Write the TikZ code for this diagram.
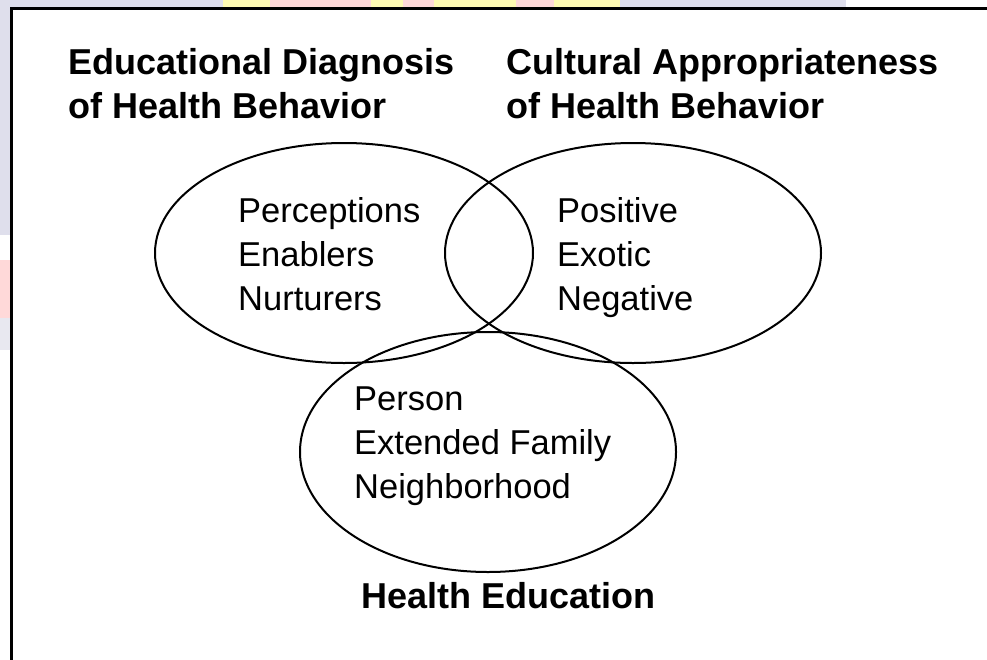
\documentclass[tikz,border=0pt]{standalone}
\usepackage{fontspec}
\setmainfont{Liberation Sans}

\tikzset{
  ring/.style={line width=2pt},
  heading/.style={font=\fontsize{36}{44}\selectfont\bfseries, align=left, anchor=base west, inner sep=0pt},
  items/.style={font=\fontsize{34.5}{44}\selectfont, align=left, anchor=base west, inner sep=0pt}
}

\begin{document}
\begin{tikzpicture}[x=1pt,y=-1pt]
\useasboundingbox (0,0) rectangle (987,659);
\clip (0,0) rectangle (987,659);

% faded backdrop showing round the frame
\fill[blue!25!gray!20] (0,0) rectangle (846,11);
\fill[yellow!30] (223,0) rectangle (620,11);
\fill[red!15] (270,0) rectangle (371,11);
\fill[red!15] (403,0) rectangle (434,11);
\fill[red!15] (516,0) rectangle (554,11);
\fill[blue!25!gray!20] (0,0) rectangle (11,235);
\fill[red!15] (0,260) rectangle (11,333);
\fill[blue!20!gray!15] (0,318) rectangle (11,350);

% frame
\draw[line width=3pt, fill=white] (11,8.5) rectangle (1010,680);

% the three sets
\draw[ring] (344,253) ellipse (189 and 110);
\draw[ring] (633,253) ellipse (188 and 110);
\draw[ring] (488,452) ellipse (188 and 120);

% headings (anchored on the last line)
\node[heading] (educ) at (68,118) {Educational Diagnosis\\of Health Behavior};
\node[heading] (cult) at (506,118) {Cultural Appropriateness\\of Health Behavior};
\node[heading] (heal) at (361,608) {Health Education};

% contents
\node[items] (perc) at (238,310) {Perceptions\\Enablers\\Nurturers};
\node[items] (posi) at (557,310) {Positive\\Exotic\\Negative};
\node[items] (pers) at (354,498) {Person\\Extended Family\\Neighborhood};

\end{tikzpicture}
\end{document}
